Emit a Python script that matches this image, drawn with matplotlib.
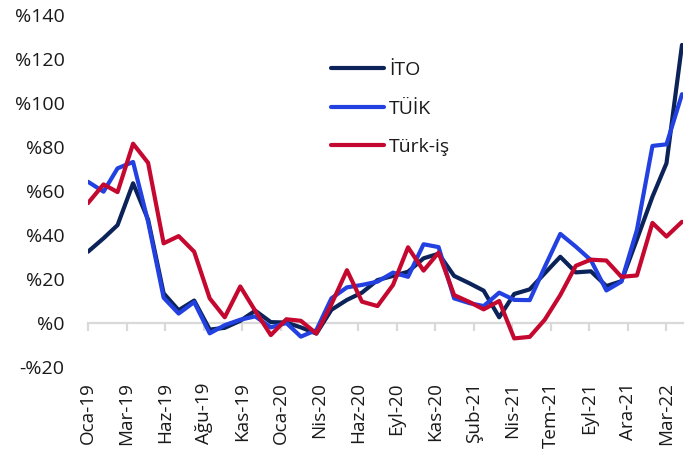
import matplotlib
matplotlib.use("Agg")
import matplotlib.pyplot as plt
import matplotlib.transforms as mtransforms
import pandas as pd
import numpy as np

# ---- data ----
months = pd.date_range("2019-01-01", periods=40, freq="MS")

ito = [32.4, 38.5, 44.5, 63.5, 47.0, 13.5, 5.8, 10.2, -3.0, -2.2,
       1.0, 5.6, 0.4, 0.2, -2.0, -4.8, 6.0, 10.5, 13.8, 19.5,
       21.4, 23.3, 29.4, 31.5, 21.4, 18.0, 14.7, 2.6, 13.2, 15.3,
       22.6, 30.1, 23.0, 23.5, 16.8, 19.0, 38.0, 57.4, 72.6, 126.4]

tuik = [64.2, 59.7, 70.3, 73.2, 46.0, 11.5, 4.3, 9.5, -4.7, -1.0,
        1.5, 3.0, -2.0, 0.0, -6.2, -3.2, 11.2, 16.2, 17.3, 18.8,
        22.9, 21.0, 35.8, 34.5, 11.2, 9.0, 7.7, 13.8, 10.5, 10.4,
        25.5, 40.5, 34.7, 28.6, 14.8, 18.8, 42.3, 80.5, 81.2, 104.0]

turkis = [54.5, 63.0, 59.5, 81.5, 72.8, 36.2, 39.5, 32.4, 11.2, 2.6,
          16.6, 5.5, -5.5, 1.7, 1.0, -4.8, 8.5, 24.0, 9.7, 7.7,
          17.3, 34.4, 23.8, 32.0, 12.7, 9.5, 6.2, 10.0, -7.0, -6.3,
          1.5, 12.7, 26.0, 28.8, 28.4, 21.0, 21.6, 45.5, 39.3, 46.0]

series_names = ["İTO", "TÜİK", "Türk-iş"]
series_colors = ["#0b2358", "#2241e0", "#c5082f"]

x_tick_labels = ["Oca-19", "Mar-19", "Haz-19", "Ağu-19", "Kas-19", "Oca-20",
                 "Nis-20", "Haz-20", "Eyl-20", "Kas-20", "Şub-21", "Nis-21",
                 "Tem-21", "Eyl-21", "Ara-21", "Mar-22"]
y_ticks = [-20, 0, 20, 40, 60, 80, 100, 120, 140]
y_tick_labels = ["-%20", "%0", "%20", "%40", "%60", "%80", "%100", "%120", "%140"]

# ---- figure ----
plt.rcParams["font.family"] = ["Open Sans", "DejaVu Sans"]
W, H = 694, 451
fig = plt.figure(figsize=(W / 100, H / 100), dpi=100)
left_px, right_px, top_px, bottom_px = 88, 683, 15, 367
ax = fig.add_axes([left_px / W, 1 - bottom_px / H,
                   (right_px - left_px) / W, (bottom_px - top_px) / H])

text_color = "#1a1a1a"
fs = 14

for vals, name, col in zip([ito, tuik, turkis], series_names, series_colors):
    ax.plot(months, vals, color=col, lw=3.0, label=name,
            solid_joinstyle="round", solid_capstyle="round")

ax.set_ylim(-20, 140)
ax.set_xlim(pd.Timestamp("2019-01-01"), pd.Timestamp("2022-04-03"))

for s in ["top", "right", "left"]:
    ax.spines[s].set_visible(False)
ax.spines["bottom"].set_position(("data", 0))
ax.spines["bottom"].set_color("#d9d9d9")
ax.spines["bottom"].set_linewidth(1.6)
ax.spines["bottom"].set_zorder(0.5)
ax.set_axisbelow(True)

tick_dates = [pd.Timestamp("2019-01-01") + pd.Timedelta(days=77 * k)
              for k in range(len(x_tick_labels))]
ax.set_xticks(tick_dates)
ax.tick_params(axis="x", direction="out", length=6, width=1.6,
               color="#d9d9d9", labelbottom=False)
trans = mtransforms.blended_transform_factory(ax.transData, ax.transAxes)
label_top_axes = (bottom_px - 382) / (bottom_px - top_px)
for d, lab in zip(tick_dates, x_tick_labels):
    ax.text(d, label_top_axes, lab, rotation=90, ha="center", va="top",
            fontsize=13.6, color=text_color, transform=trans, clip_on=False)

ax.set_yticks(y_ticks)
ax.set_yticklabels(y_tick_labels)
ax.tick_params(axis="y", length=0, pad=17, labelsize=fs, labelcolor=text_color)

leg = ax.legend(loc="upper left", bbox_to_anchor=(331 / W, 1 - 61 / H),
                bbox_transform=fig.transFigure, frameon=False, fontsize=fs,
                handlelength=2.73, handletextpad=0.26, labelspacing=1.06,
                borderpad=0, borderaxespad=0)
for t in leg.get_texts():
    t.set_color(text_color)

fig.savefig("out.png", dpi=100)
